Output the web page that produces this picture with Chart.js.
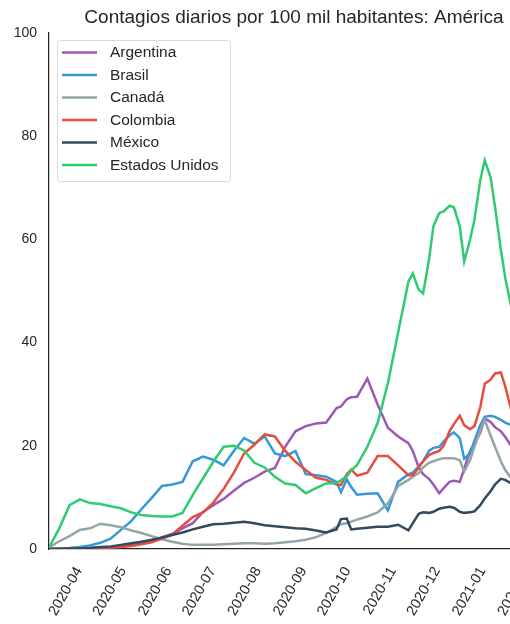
<!DOCTYPE html>
<html>
<head>
<meta charset="utf-8">
<script src="https://cdn.jsdelivr.net/npm/chart.js@4"></script>
<style>
  html, body { margin: 0; padding: 0; background: #fff; overflow: hidden; }
  #wrap { position: absolute; left: 0; top: 0; width: 560px; height: 624px; }
</style>
</head>
<body>
<div id="wrap"><canvas id="chart1" width="560" height="624"></canvas></div>
<script>
// fechas de muestreo (media móvil)
const fechas = [
  '2020-03-21', '2020-03-28', '2020-04-04', '2020-04-11', '2020-04-18', '2020-04-25',
  '2020-05-02', '2020-05-09', '2020-05-16', '2020-05-23', '2020-05-30',
  '2020-06-06', '2020-06-13', '2020-06-20', '2020-06-27',
  '2020-07-04', '2020-07-11', '2020-07-18', '2020-07-25',
  '2020-08-01', '2020-08-08', '2020-08-15', '2020-08-22', '2020-08-29',
  '2020-09-05', '2020-09-12', '2020-09-19', '2020-09-26',
  '2020-10-03', '2020-10-06', '2020-10-10', '2020-10-13', '2020-10-17', '2020-10-24', '2020-10-31',
  '2020-11-07', '2020-11-14', '2020-11-21', '2020-11-24', '2020-11-28',
  '2020-12-01', '2020-12-05', '2020-12-08', '2020-12-12', '2020-12-15', '2020-12-19', '2020-12-22', '2020-12-26', '2020-12-29',
  '2021-01-02', '2021-01-05', '2021-01-09', '2021-01-12', '2021-01-16', '2021-01-19', '2021-01-23', '2021-01-26', '2021-01-30',
  '2021-02-02', '2021-02-06', '2021-02-09', '2021-02-13'
];

const meses = ['2020-04', '2020-05', '2020-06', '2020-07', '2020-08', '2020-09',
  '2020-10', '2020-11', '2020-12', '2021-01', '2021-02'];

const argentina = [0.0, 0.1, 0.1, 0.2, 0.2, 0.2, 0.3, 0.5, 0.8, 1.1, 1.6, 2.3, 2.9, 4.0, 5.0,
  7.2, 8.5, 9.7, 11.3, 12.8, 13.8, 15.0, 15.7, 19.8, 22.8, 23.8, 24.3, 24.5,
  27.3, 27.6, 29.0, 29.4, 29.5, 33.0, 28.0, 23.5, 21.8, 20.5, 19.0, 15.8,
  14.5, 13.6, 12.5, 10.8, 11.8, 13.0, 13.2, 13.0, 15.5,
  19.0, 20.5, 22.5, 25.3, 24.6, 23.6, 22.8, 21.7, 20.0, 19.0, 18.0, 17.0, 16.0];

const brasil = [0.0, 0.1, 0.2, 0.4, 0.7, 1.2, 2.0, 3.7, 5.4, 7.7, 9.9, 12.2, 12.5, 13.0, 17.0,
  17.9, 17.3, 16.2, 19.0, 21.5, 20.4, 21.8, 18.5, 18.0, 19.0, 14.5, 14.3, 14.0,
  13.0, 11.0, 13.5, 12.0, 10.5, 10.7, 10.8, 7.5, 13.0, 14.5, 14.8, 16.0,
  17.0, 19.0, 19.6, 19.8, 20.8, 22.0, 22.6, 21.5, 17.5,
  18.5, 21.0, 24.0, 25.6, 25.8, 25.6, 25.0, 24.5, 24.0, 24.0, 23.5, 23.0, 22.0];

const canada = [0.3, 1.5, 2.5, 3.7, 4.0, 4.9, 4.6, 4.2, 3.6, 3.1, 2.5, 1.9, 1.4, 1.0, 0.8,
  0.8, 0.8, 0.9, 1.0, 1.1, 1.1, 1.0, 1.1, 1.3, 1.5, 1.8, 2.3, 3.1,
  4.3, 4.8, 5.0, 5.3, 5.7, 6.3, 7.1, 8.8, 12.2, 13.4, 14.0, 14.7,
  15.8, 16.7, 17.0, 17.4, 17.6, 17.6, 17.6, 17.2, 15.0,
  17.2, 19.8, 23.0, 25.0, 22.0, 19.8, 17.0, 15.3, 13.7, 12.5, 11.0, 10.0, 9.0];

const colombia = [0.0, 0.0, 0.1, 0.1, 0.2, 0.2, 0.3, 0.4, 0.6, 0.9, 1.3, 2.0, 2.8, 4.5, 6.2,
  7.1, 9.0, 11.6, 14.8, 18.5, 20.2, 22.2, 21.8, 19.0, 16.9, 15.3, 13.8, 13.4,
  12.5, 12.4, 14.5, 15.4, 14.2, 14.8, 18.0, 18.0, 16.2, 14.3, 14.3, 15.8,
  17.0, 18.2, 18.6, 19.0, 20.0, 22.8, 24.2, 25.8, 24.0,
  23.2, 23.8, 27.5, 32.0, 32.8, 34.0, 34.2, 31.5, 27.0, 24.0, 21.0, 19.0, 17.0];

const mexico = [0.0, 0.0, 0.1, 0.1, 0.2, 0.4, 0.5, 0.8, 1.1, 1.4, 1.8, 2.2, 2.7, 3.2, 3.8,
  4.3, 4.8, 4.9, 5.1, 5.3, 5.0, 4.6, 4.4, 4.2, 4.0, 3.9, 3.6, 3.2,
  3.8, 5.8, 5.9, 3.8, 3.9, 4.1, 4.3, 4.3, 4.7, 3.6, 5.0, 6.8,
  7.1, 7.0, 7.2, 7.8, 8.0, 8.2, 8.0, 7.2, 7.0,
  7.1, 7.3, 8.5, 9.8, 11.2, 12.5, 13.6, 13.4, 12.7, 12.0, 11.0, 10.5, 10.0];

const estadosUnidos = [0.3, 4.0, 8.5, 9.6, 8.9, 8.7, 8.3, 7.9, 7.1, 6.6, 6.4, 6.3, 6.3, 7.0, 10.5,
  13.7, 16.9, 19.8, 20.0, 19.1, 16.7, 15.8, 14.0, 12.7, 12.4, 10.8, 11.8, 12.7,
  12.8, 13.3, 14.1, 15.2, 16.3, 19.8, 24.4, 32.1, 42.0, 51.8, 53.4, 50.2,
  49.5, 56.0, 62.5, 65.1, 65.4, 66.5, 66.2, 62.5, 55.7,
  59.9, 63.8, 71.5, 75.3, 72.0, 66.3, 58.0, 52.5, 47.0, 42.0, 37.0, 34.0, 30.0];

const paises = ['Argentina', 'Brasil', 'Canadá', 'Colombia', 'México', 'Estados Unidos'];
const series = [argentina, brasil, canada, colombia, mexico, estadosUnidos];
const colores = ['#9b59b6', '#3498db', '#95a5a6', '#e74c3c', '#34495e', '#2ecc71'];

const FUENTE = '"Liberation Sans", Arial, sans-serif';
const TEXTO = '#262626';

// días desde 2020-04-01
function dia(s) {
  const p = s.split('-').map(Number);
  return (Date.UTC(p[0], p[1] - 1, p[2] || 1) - Date.UTC(2020, 3, 1)) / 86400000;
}

const leyenda = {
  id: 'leyenda',
  afterDatasetsDraw(chart) {
    const ctx = chart.ctx;
    ctx.save();
    ctx.fillStyle = 'rgba(255,255,255,0.8)';
    ctx.strokeStyle = '#d9d9d9';
    ctx.lineWidth = 1;
    ctx.beginPath();
    ctx.roundRect(57.5, 40.5, 173, 141, 3);
    ctx.fill();
    ctx.stroke();
    ctx.font = '15.5px ' + FUENTE;
    ctx.textBaseline = 'middle';
    chart.data.datasets.forEach((ds, i) => {
      const y = 52.5 + i * 22.5;
      ctx.strokeStyle = ds.borderColor;
      ctx.lineWidth = 2.5;
      ctx.beginPath();
      ctx.moveTo(62, y);
      ctx.lineTo(97, y);
      ctx.stroke();
      ctx.fillStyle = TEXTO;
      ctx.fillText(ds.label, 110, y + 0.5);
    });
    ctx.restore();
  }
};

const ctx = document.getElementById('chart1');
new Chart(ctx, {
  type: 'line',
  data: {
    datasets: paises.map((p, i) => ({
      label: p,
      data: series[i].map((v, j) => ({ x: dia(fechas[j]), y: v })),
      borderColor: colores[i],
      backgroundColor: colores[i],
      borderWidth: 2.5,
      pointRadius: 0,
      tension: 0,
      order: paises.length - i,
    })),
  },
  options: {
    responsive: false,
    animation: false,
    layout: { padding: { top: 0, right: 21, bottom: 0, left: 0 } },
    plugins: {
      legend: { display: false },
      tooltip: { enabled: false },
      title: {
        display: true,
        fullSize: false,
        text: 'Contagios diarios por 100 mil habitantes: América',
        color: TEXTO,
        font: { family: FUENTE, size: 19, weight: 'normal' },
        padding: { top: 6, bottom: 4 },
      },
    },
    scales: {
      x: {
        type: 'linear',
        min: dia('2020-03-21'),
        max: dia('2021-02-18'),
        grid: { display: false, drawTicks: false },
        border: { display: true, color: TEXTO, width: 1.25 },
        afterBuildTicks: (scale) => {
          scale.ticks = meses.map(m => ({ value: dia(m) }));
        },
        afterFit: (scale) => { scale.height = 75; },
        ticks: {
          autoSkip: false,
          maxRotation: 60,
          minRotation: 60,
          padding: 15,
          labelOffset: 14,
          color: TEXTO,
          font: { family: FUENTE, size: 14.5 },
          callback: (v, i) => meses[i],
        },
      },
      y: {
        min: 0,
        max: 100,
        grid: { display: false, drawTicks: false },
        border: { display: true, color: TEXTO, width: 1.25 },
        afterFit: (scale) => { scale.width = 49; },
        ticks: {
          stepSize: 20,
          padding: 12,
          color: TEXTO,
          font: { family: FUENTE, size: 14 },
        },
      },
    },
  },
  plugins: [leyenda],
});
</script>
</body>
</html>
